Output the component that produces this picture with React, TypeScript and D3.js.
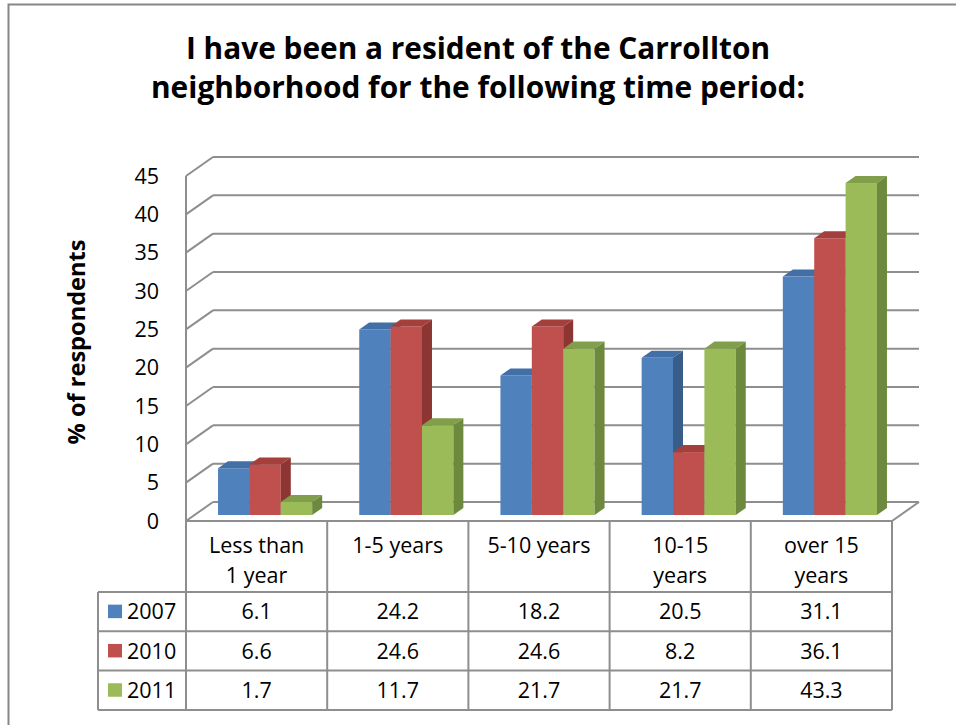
import React from "react";
import * as d3 from "d3";

const titleLines = ["I have been a resident of the Carrollton", "neighborhood for the following time period:"];
const yAxisTitle = "% of respondents";
const categories = ["Less than 1 year", "1-5 years", "5-10 years", "10-15 years", "over 15 years"];
const categoryLines = [["Less than", "1 year"], ["1-5 years"], ["5-10 years"], ["10-15", "years"], ["over 15", "years"]];
const seriesNames = ["2007", "2010", "2011"];
const values2007 = [6.1, 24.2, 18.2, 20.5, 31.1];
const values2010 = [6.6, 24.6, 24.6, 8.2, 36.1];
const values2011 = [1.7, 11.7, 21.7, 21.7, 43.3];
const yTicks = [0, 5, 10, 15, 20, 25, 30, 35, 40, 45];

const seriesValues = [values2007, values2010, values2011];
const frontColors = ["#4F81BD", "#C0504D", "#9BBB59"];
const topColors = ["#416FA6", "#A43F3C", "#819F4A"];
const sideColors = ["#385D8A", "#8C3532", "#6C893D"];

const FONT = "'Open Sans', 'Noto Sans', sans-serif";
const GRID = "#8e8e8e";

export default function App() {
  const W = 956, H = 725;
  const left = 186, right = 892;
  const DX = 27, DY = -19;
  const f0 = 0.315, f1 = 0.685;

  const x = d3.scaleBand<string>().domain(categories).range([left, right]).paddingInner(0).paddingOuter(0);
  const xs = d3.scaleBand<string>().domain(seriesNames).range([0, x.bandwidth()]).paddingInner(0).paddingOuter(0.75);
  const y = d3.scaleLinear().domain([0, 45]).range([521, 176]);

  const tableTop = 521;
  const headerBottom = 592;
  const rowH = 39.3;
  const legendLeft = 98;

  const bars: React.ReactNode[] = [];
  categories.forEach((c, ci) => {
    seriesNames.forEach((s, si) => {
      const v = seriesValues[si][ci];
      const bx = (x(c) as number) + (xs(s) as number) + f0 * DX;
      const bw = xs.bandwidth();
      const yb = y(0) + f0 * DY;
      const yt = y(v) + f0 * DY;
      const ddx = (f1 - f0) * DX, ddy = (f1 - f0) * DY;
      bars.push(
        <g key={c + s}>
          <rect x={bx} y={yt} width={bw} height={yb - yt} fill={frontColors[si]} />
          <polygon
            points={`${bx},${yt} ${bx + ddx},${yt + ddy} ${bx + bw + ddx},${yt + ddy} ${bx + bw},${yt}`}
            fill={topColors[si]}
          />
          <polygon
            points={`${bx + bw},${yt} ${bx + bw + ddx},${yt + ddy} ${bx + bw + ddx},${yb + ddy} ${bx + bw},${yb}`}
            fill={sideColors[si]}
          />
        </g>
      );
    });
  });

  return (
    <svg width={W} height={H} style={{ position: "absolute", left: 0, top: 0, display: "block" }} fontFamily={FONT}>
      <rect x={0} y={0} width={W} height={H} fill="#fff" />
      {/* outer border */}
      <path d={`M8.5,${H + 5} L8.5,4.5 L${W + 5},4.5`} fill="none" stroke="#878787" strokeWidth={2} />

      {/* title */}
      <text x={478} y={59} textAnchor="middle" fontWeight="bold" fontSize={30} fill="#000" textLength={584} lengthAdjust="spacingAndGlyphs">{titleLines[0]}</text>
      <text x={478} y={98} textAnchor="middle" fontWeight="bold" fontSize={30} fill="#000" textLength={654} lengthAdjust="spacingAndGlyphs">{titleLines[1]}</text>

      {/* y axis title */}
      <text transform={`translate(85,342) rotate(-90)`} textAnchor="middle" fontWeight="bold" fontSize={22.5} fill="#000" textLength={205} lengthAdjust="spacingAndGlyphs">{yAxisTitle}</text>

      {/* gridlines: back wall + left wall */}
      {yTicks.map((t) => (
        <g key={t}>
          <line x1={left} y1={y(t)} x2={left + DX} y2={y(t) + DY} stroke={GRID} strokeWidth={2} />
          <line x1={left + DX} y1={y(t) + DY} x2={right + DX} y2={y(t) + DY} stroke={GRID} strokeWidth={2} />
        </g>
      ))}
      {/* floor right edge */}
      <line x1={right} y1={y(0)} x2={right + DX} y2={y(0) + DY} stroke={GRID} strokeWidth={2} />
      {/* vertical axis */}
      <line x1={left} y1={y(45)} x2={left} y2={tableTop + 3 * rowH + (headerBottom - tableTop)} stroke={GRID} strokeWidth={2} />

      {/* tick labels */}
      {yTicks.map((t) => (
        <text key={"l" + t} x={159} y={y(t)} dy="0.36em" textAnchor="end" fontSize={21.5} fill="#000">{t}</text>
      ))}

      {/* bars */}
      {bars}

      {/* data table */}
      <line x1={left} y1={tableTop} x2={right} y2={tableTop} stroke={GRID} strokeWidth={2} />
      {[0, 1, 2, 3].map((i) => (
        <line key={"h" + i} x1={legendLeft} y1={headerBottom + i * rowH} x2={right} y2={headerBottom + i * rowH} stroke={GRID} strokeWidth={2} />
      ))}
      <line x1={legendLeft} y1={headerBottom} x2={legendLeft} y2={headerBottom + 3 * rowH} stroke={GRID} strokeWidth={2} />
      {categories.map((c, ci) => (
        <line key={"v" + ci} x1={(x(c) as number) + x.bandwidth()} y1={tableTop} x2={(x(c) as number) + x.bandwidth()} y2={headerBottom + 3 * rowH} stroke={GRID} strokeWidth={2} />
      ))}
      {categories.map((c, ci) => (
        <g key={"c" + ci}>
          {categoryLines[ci].map((ln, li) => (
            <text key={li} x={(x(c) as number) + x.bandwidth() / 2} y={553 + li * 30} textAnchor="middle" fontSize={21.5} fill="#000">{ln}</text>
          ))}
        </g>
      ))}
      {seriesNames.map((s, si) => {
        const cy = headerBottom + si * rowH + rowH / 2;
        return (
          <g key={"r" + s}>
            <rect x={108} y={cy - 7} width={14} height={13.5} fill={frontColors[si]} />
            <text x={127} y={cy} dy="0.36em" fontSize={21.5} fill="#000">{s}</text>
            {categories.map((c, ci) => (
              <text key={ci} x={(x(c) as number) + x.bandwidth() / 2} y={cy} dy="0.36em" textAnchor="middle" fontSize={21.5} fill="#000">
                {seriesValues[si][ci].toFixed(1)}
              </text>
            ))}
          </g>
        );
      })}
    </svg>
  );
}
